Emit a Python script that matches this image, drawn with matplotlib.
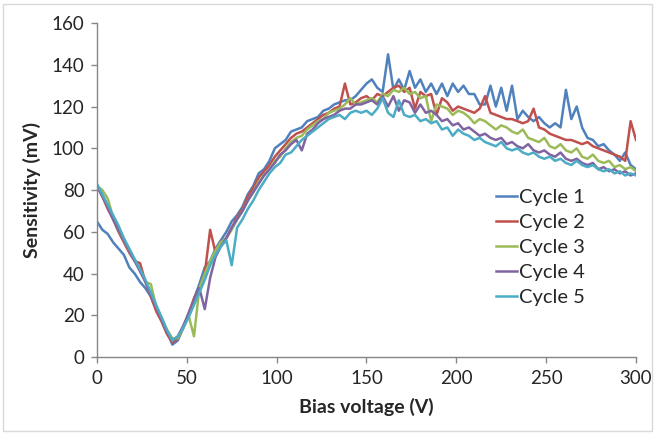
import numpy as np
import matplotlib.pyplot as plt
from matplotlib.patches import Rectangle

plt.rcParams['font.family'] = ['Lato', 'DejaVu Sans']

# Bias voltage grid (V), one reading every 3 V
bias = list(range(0, 301, 3))

# Sensitivity (mV), per cycle
cycle1 = [65, 61, 59, 55, 52, 49, 43, 40, 36, 33,
          29, 23, 18, 12, 6, 8, 14, 20, 28, 35,
          43, 46, 52, 56, 60, 65, 68, 72, 78, 82,
          88, 90, 94, 100, 102, 104, 108, 109, 110, 113,
          114, 115, 118, 119, 121, 122, 123, 123, 125, 128,
          131, 133, 129, 127, 145, 128, 133, 128, 137, 129,
          133, 127, 131, 126, 131, 125, 131, 127, 130, 126,
          126, 121, 121, 130, 120, 129, 118, 130, 114, 118,
          115, 113, 115, 112, 110, 112, 110, 128, 114, 120,
          110, 105, 104, 101, 102, 99, 97, 94, 98, 92,
          90]
cycle2 = [82, 77, 71, 66, 60, 55, 50, 46, 45, 36,
          29, 22, 17, 11, 7, 9, 14, 21, 28, 33,
          40, 61, 50, 55, 57, 62, 67, 71, 77, 81,
          86, 89, 92, 96, 99, 102, 105, 107, 108, 110,
          112, 114, 116, 117, 119, 120, 131, 121, 122, 124,
          125, 123, 126, 125, 127, 129, 130, 127, 129, 119,
          127, 125, 126, 116, 124, 122, 118, 120, 119, 118,
          117, 119, 125, 117, 116, 115, 114, 114, 113, 112,
          113, 119, 110, 109, 107, 106, 105, 104, 104, 103,
          102, 103, 101, 100, 99, 98, 97, 96, 94, 113,
          104]
cycle3 = [82, 80, 76, 67, 61, 56, 51, 46, 42, 36,
          35, 24, 19, 13, 9, 9, 14, 20, 10, 33,
          40, 46, 51, 55, 57, 61, 66, 70, 75, 79,
          84, 87, 90, 94, 96, 100, 103, 105, 106, 109,
          111, 113, 114, 117, 118, 119, 121, 124, 121, 122,
          123, 124, 122, 126, 125, 128, 127, 129, 126, 127,
          124, 125, 113, 121, 120, 119, 116, 118, 117, 115,
          112, 114, 113, 111, 109, 111, 110, 108, 107, 109,
          105, 104, 103, 105, 101, 100, 102, 99, 98, 100,
          96, 95, 97, 94, 93, 94, 91, 92, 90, 91,
          89]
cycle4 = [82, 77, 72, 66, 61, 56, 51, 46, 41, 36,
          30, 24, 18, 12, 8, 10, 15, 21, 27, 33,
          23, 38, 48, 53, 57, 62, 66, 70, 75, 79,
          83, 87, 90, 93, 97, 99, 102, 104, 99, 107,
          109, 112, 114, 115, 116, 118, 119, 119, 121, 121,
          122, 123, 121, 125, 120, 125, 118, 123, 122, 117,
          121, 117, 118, 116, 113, 114, 111, 112, 109, 110,
          108, 106, 107, 105, 104, 105, 102, 103, 101, 100,
          102, 99, 98, 99, 97, 96, 98, 95, 94, 95,
          93, 92, 93, 90, 91, 89, 90, 88, 89, 87,
          88]
cycle5 = [83, 78, 73, 68, 63, 57, 52, 47, 42, 37,
          31, 25, 19, 13, 8, 10, 14, 19, 25, 31,
          37, 44, 49, 53, 56, 44, 62, 66, 71, 75,
          80, 84, 88, 91, 93, 97, 98, 101, 104, 106,
          108, 110, 112, 114, 115, 116, 114, 117, 118, 117,
          118, 116, 119, 124, 117, 115, 123, 116, 115, 116,
          113, 114, 112, 113, 109, 110, 106, 109, 107, 106,
          104, 105, 103, 102, 101, 103, 100, 99, 100, 98,
          97, 98, 96, 95, 96, 94, 95, 93, 92, 94,
          92, 91, 92, 90, 89, 90, 88, 89, 87, 88,
          87]

series = [cycle1, cycle2, cycle3, cycle4, cycle5]
labels = ["Cycle 1", "Cycle 2", "Cycle 3", "Cycle 4", "Cycle 5"]
colors = ["#4F81BD", "#C0504D", "#9BBB59", "#8064A2", "#4BACC6"]

fig = plt.figure(figsize=(6.55, 4.34), dpi=100)
ax = fig.add_axes([0.148, 0.177, 0.823, 0.77])

for y, lab, c in zip(series, labels, colors):
    ax.plot(bias, y, color=c, linewidth=1.8, label=lab)

ax.set_xlim(0, 300)
ax.set_ylim(0, 160)
ax.set_xticks(np.arange(0, 301, 50))
ax.set_yticks(np.arange(0, 161, 20))

for s in ["top", "right"]:
    ax.spines[s].set_visible(False)
for s in ["left", "bottom"]:
    ax.spines[s].set_color("#868686")
    ax.spines[s].set_linewidth(1)
ax.tick_params(direction="out", length=4, width=1, color="#868686",
               labelsize=13.5, labelcolor="#262626", pad=5)

ax.set_xlabel("Bias voltage (V)", fontsize=14, fontweight="bold", color="#262626", labelpad=8)
ax.set_ylabel("Sensitivity (mV)", fontsize=14, fontweight="bold", color="#262626", labelpad=8)

leg = ax.legend(loc="center left", bbox_to_anchor=(0.758, 0.43), bbox_transform=fig.transFigure,
                frameon=False, fontsize=14.5, handlelength=1.0, handletextpad=0.1,
                labelspacing=0.4, borderpad=0, borderaxespad=0)
for t in leg.get_texts():
    t.set_color("#262626")

# chart border like the spreadsheet export
fig.patches.append(Rectangle((0.005, 0.006), 0.99, 0.985, transform=fig.transFigure,
                             fill=False, edgecolor="#D9D9D9", linewidth=1))

fig.savefig("out.png", dpi=100)
